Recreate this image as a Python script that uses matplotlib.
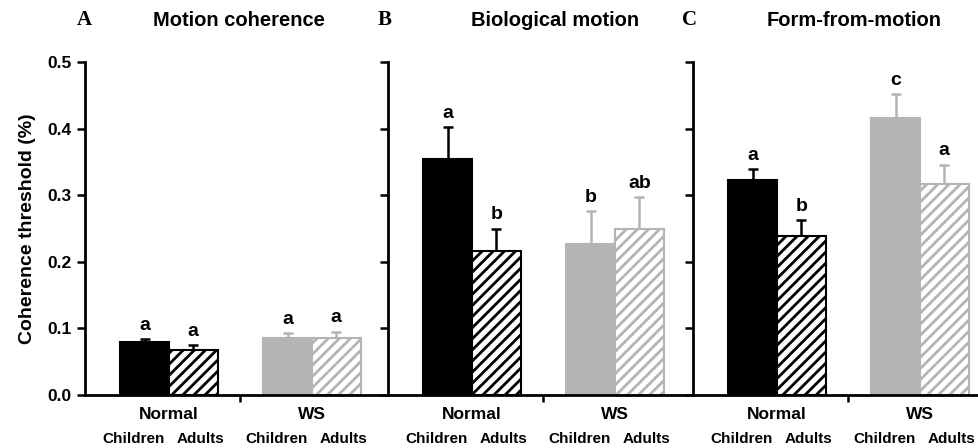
import numpy as np
import matplotlib
matplotlib.use("Agg")
from matplotlib import pyplot as plt

plt.rcParams['font.family'] = ['Liberation Sans', 'DejaVu Sans']
plt.rcParams['font.weight'] = 'bold'
plt.rcParams['hatch.linewidth'] = 2.0

# data
panels = ["Motion coherence", "Biological motion", "Form-from-motion"]
panel_letters = ["A", "B", "C"]
groups = ["Normal", "WS"]
ages = ["Children", "Adults"]

# order: Normal children, Normal adults, WS children, WS adults
means = [
    [0.080, 0.068, 0.085, 0.086],
    [0.355, 0.216, 0.227, 0.249],
    [0.323, 0.238, 0.416, 0.317],
]
errs = [
    [0.004, 0.007, 0.008, 0.009],
    [0.047, 0.034, 0.049, 0.048],
    [0.016, 0.025, 0.036, 0.029],
]
letters = [
    ["a", "a", "a", "a"],
    ["a", "b", "b", "ab"],
    ["a", "b", "c", "a"],
]

gray = "#b4b4b4"
W, H = 979, 448
fig = plt.figure(figsize=(W / 100, H / 100), dpi=100)

# axes boxes in pixels: left, right
boxes = [(85, 388), (388, 693), (693, 979)]
title_x = [239, 555, 854]
letter_x = [84, 385, 690]
bottom_px, top_px = 395, 62
px_per_unit = 143

bar_w = 0.34
pos = [-0.17, 0.17, 0.83, 1.17]
faces = ["black", "white", gray, "white"]
edges = ["black", "black", gray, gray]
hatches = [None, "///", None, "///"]
ecols = ["black", "black", gray, gray]

for i in range(3):
    l, r = boxes[i]
    ax = fig.add_axes([l / W, 1 - bottom_px / H, (r - l) / W, (bottom_px - top_px) / H])
    x0 = -84 / px_per_unit
    ax.set_xlim(x0, x0 + (r - l) / px_per_unit)
    ax.set_ylim(0, 0.5)
    for j in range(4):
        ax.bar(pos[j], means[i][j], width=bar_w, color=faces[j], edgecolor=edges[j],
               hatch=hatches[j], linewidth=1.5, zorder=2)
        ax.errorbar(pos[j], means[i][j], yerr=[[0], [errs[i][j]]], fmt="none",
                    ecolor=ecols[j], elinewidth=1.8, capsize=3.6, capthick=1.8, zorder=1)
        ax.text(pos[j], means[i][j] + errs[i][j] + 0.008, letters[i][j], ha="center",
                va="bottom", fontsize=14, fontweight="bold")
    for s in ["top", "right"]:
        ax.spines[s].set_visible(False)
    ax.spines["left"].set_linewidth(2)
    ax.spines["bottom"].set_linewidth(2)
    ax.set_yticks([0, 0.1, 0.2, 0.3, 0.4, 0.5])
    if i == 0:
        ax.set_yticklabels(["0.0", "0.1", "0.2", "0.3", "0.4", "0.5"], fontsize=12.5, fontweight="bold")
        ax.set_ylabel("Coherence threshold (%)", fontsize=14, fontweight="bold", labelpad=8)
    else:
        ax.set_yticklabels([])
    ax.tick_params(axis="y", direction="out", length=6, width=1.8)
    ax.set_xticks([0.5])
    ax.set_xticklabels([])
    ax.tick_params(axis="x", direction="out", length=5, width=1.8)
    for g in range(2):
        ax.text(g, -0.036, groups[g], ha="center", va="baseline",
                fontsize=12.5, fontweight="bold", clip_on=False)
        ax.text(g - 0.25, -0.0725, ages[0], ha="center", va="baseline", fontsize=11,
                fontweight="bold", clip_on=False)
        ax.text(g + 0.22, -0.0725, ages[1], ha="center", va="baseline", fontsize=11,
                fontweight="bold", clip_on=False)
    fig.text(title_x[i] / W, 1 - 20 / H, panels[i], ha="center", va="center",
             fontsize=14.5, fontweight="bold")
    fig.text(letter_x[i] / W, 1 - 20 / H, panel_letters[i], ha="center", va="center",
             fontsize=15, fontweight="bold", family="Liberation Serif")

fig.savefig("out.png", dpi=100)
